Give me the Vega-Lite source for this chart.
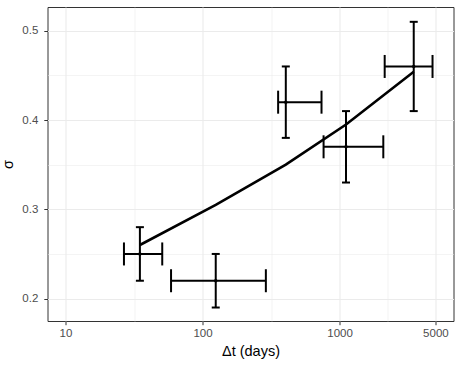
{
  "$schema": "https://vega.github.io/schema/vega-lite/v6.json",
  "width": 406,
  "height": 314,
  "autosize": {"type": "none"},
  "padding": {"left": 47.5, "top": 7, "right": 8, "bottom": 48},
  "background": "white",
  "config": {
    "view": {"stroke": "#333333", "strokeWidth": 1},
    "axis": {
      "labelFont": "Liberation Sans",
      "labelFontSize": 11.5,
      "labelColor": "#4D4D4D",
      "titleFont": "Liberation Sans",
      "titleFontSize": 14.5,
      "titleFontWeight": "normal",
      "titleColor": "#000000",
      "tickColor": "#333333",
      "tickSize": 3.7,
      "tickWidth": 1,
      "domain": false,
      "gridColor": "#EBEBEB"
    }
  },
  "data": {
    "values": [
      {"dt": 34.9, "dtlo": 26.7, "dthi": 50.8, "s": 0.25, "slo": 0.22, "shi": 0.28, "fit": 0.26},
      {"dt": 124.8, "dtlo": 58.9, "dthi": 289.7, "s": 0.22, "slo": 0.19, "shi": 0.25, "fit": 0.305},
      {"dt": 405, "dtlo": 356, "dthi": 738, "s": 0.42, "slo": 0.38, "shi": 0.46, "fit": 0.35},
      {"dt": 1114, "dtlo": 764, "dthi": 2084, "s": 0.37, "slo": 0.33, "shi": 0.41, "fit": 0.395},
      {"dt": 3475, "dtlo": 2133, "dthi": 4765, "s": 0.46, "slo": 0.41, "shi": 0.51, "fit": 0.454}
    ]
  },
  "layer": [
    {
      "mark": {"type": "line", "color": "black", "strokeWidth": 2.6},
      "encoding": {
        "x": {
          "field": "dt", "type": "quantitative", "title": "Δt (days)",
          "scale": {"type": "log", "domain": [7.39, 6778], "nice": false, "zero": false},
          "axis": {
            "values": [10, 31.6228, 100, 316.228, 1000, 2236.07, 5000],
            "labelExpr": "indexof([10,100,1000,5000], datum.value) >= 0 ? format(datum.value, 'd') : ''",
            "tickOpacity": {"condition": {"test": "indexof([10,100,1000,5000], datum.value) >= 0", "value": 1}, "value": 0},
            "gridWidth": {"condition": {"test": "indexof([10,100,1000,5000], datum.value) >= 0", "value": 1.07}, "value": 0.53},
            "labelPadding": 3,
            "titlePadding": 5
          }
        },
        "y": {
          "field": "fit", "type": "quantitative", "title": "σ",
          "scale": {"domain": [0.1749, 0.5266], "nice": false, "zero": false},
          "axis": {
            "values": [0.2, 0.25, 0.3, 0.35, 0.4, 0.45, 0.5],
            "labelExpr": "round(datum.value*100) % 10 == 0 ? format(datum.value, '.1f') : ''",
            "tickOpacity": {"condition": {"test": "round(datum.value*100) % 10 == 0", "value": 1}, "value": 0},
            "gridWidth": {"condition": {"test": "round(datum.value*100) % 10 == 0", "value": 1.07}, "value": 0.53},
            "labelPadding": 6,
            "titlePadding": 6
          }
        }
      }
    },
    {
      "mark": {"type": "rule", "color": "black", "strokeWidth": 2},
      "encoding": {
        "x": {"field": "dt", "type": "quantitative", "title": "Δt (days)"},
        "y": {"field": "slo", "type": "quantitative", "title": "σ"},
        "y2": {"field": "shi"}
      }
    },
    {
      "mark": {"type": "rule", "color": "black", "strokeWidth": 2},
      "encoding": {
        "x": {"field": "dtlo", "type": "quantitative", "title": "Δt (days)"},
        "x2": {"field": "dthi"},
        "y": {"field": "s", "type": "quantitative", "title": "σ"}
      }
    },
    {
      "mark": {"type": "tick", "color": "black", "orient": "horizontal", "size": 8, "thickness": 2, "opacity": 1},
      "encoding": {
        "x": {"field": "dt", "type": "quantitative", "title": "Δt (days)"},
        "y": {"field": "slo", "type": "quantitative", "title": "σ"}
      }
    },
    {
      "mark": {"type": "tick", "color": "black", "orient": "horizontal", "size": 8, "thickness": 2, "opacity": 1},
      "encoding": {
        "x": {"field": "dt", "type": "quantitative", "title": "Δt (days)"},
        "y": {"field": "shi", "type": "quantitative", "title": "σ"}
      }
    },
    {
      "mark": {"type": "tick", "color": "black", "orient": "vertical", "size": 23, "thickness": 2, "opacity": 1},
      "encoding": {
        "x": {"field": "dtlo", "type": "quantitative", "title": "Δt (days)"},
        "y": {"field": "s", "type": "quantitative", "title": "σ"}
      }
    },
    {
      "mark": {"type": "tick", "color": "black", "orient": "vertical", "size": 23, "thickness": 2, "opacity": 1},
      "encoding": {
        "x": {"field": "dthi", "type": "quantitative", "title": "Δt (days)"},
        "y": {"field": "s", "type": "quantitative", "title": "σ"}
      }
    },
    {
      "mark": {"type": "point", "filled": true, "color": "black", "size": 12, "opacity": 1},
      "encoding": {
        "x": {"field": "dt", "type": "quantitative", "title": "Δt (days)"},
        "y": {"field": "s", "type": "quantitative", "title": "σ"}
      }
    }
  ]
}
